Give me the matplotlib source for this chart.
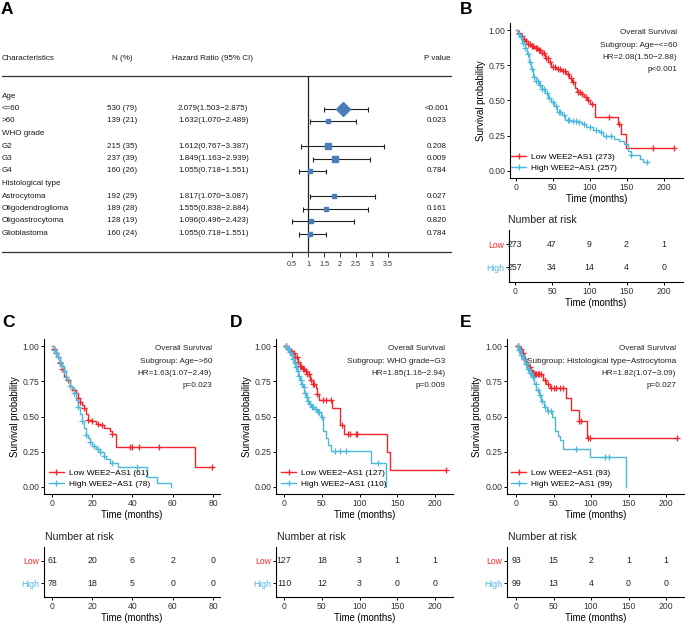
import numpy as np
import matplotlib
matplotlib.use("Agg")
import matplotlib.pyplot as plt
from matplotlib.lines import Line2D

plt.rcParams["font.family"] = ["Liberation Sans", "DejaVu Sans"]

W, H = 685, 624
RED = "#F2262B"
BLUE = "#4BB8DC"
MARK = "#4A7EBB"

# ---- panel A: forest plot data ----
rows = ["Age", "<=60", ">60", "WHO grade", "G2", "G3", "G4", "Histological type",
        "Astrocytoma", "Oligodendroglioma", "Oligoastrocytoma", "Glioblastoma"]
n_pct = ["", "530 (79)", "139 (21)", "", "215 (35)", "237 (39)", "160 (26)", "",
         "192 (29)", "189 (28)", "128 (19)", "160 (24)"]
hr = [np.nan, 2.079, 1.632, np.nan, 1.612, 1.849, 1.055, np.nan, 1.817, 1.555, 1.096, 1.055]
hr_lo = [np.nan, 1.503, 1.070, np.nan, 0.767, 1.163, 0.718, np.nan, 1.070, 0.838, 0.496, 0.718]
hr_hi = [np.nan, 2.875, 2.489, np.nan, 3.387, 2.939, 1.551, np.nan, 3.087, 2.884, 2.423, 1.551]
pvals = ["", "<0.001", "0.023", "", "0.208", "0.009", "0.784", "", "0.027", "0.161", "0.820", "0.784"]
forest_ticks = [0.5, 1, 1.5, 2, 2.5, 3, 3.5]
box_ms = [0, 7.5, 2.2, 0, 3.8, 4.2, 3.3, 0, 3.3, 3.3, 2.2, 3.3]

# ---- panel B: Age <=60 ----
b_low_t = [0, 3, 6, 9, 12, 16, 20, 25, 30, 35, 40, 44, 48, 55, 62, 68, 72, 76, 80, 83, 88, 92, 96, 100, 107, 138, 142, 149]
b_low_s = [1.0, 0.98, 0.96, 0.94, 0.92, 0.90, 0.885, 0.87, 0.855, 0.84, 0.80, 0.77, 0.735, 0.72, 0.71, 0.69,
           0.66, 0.63, 0.59, 0.56, 0.545, 0.525, 0.50, 0.475, 0.38, 0.33, 0.26, 0.163]
b_low_end = 214
b_low_cens = [5, 8, 11, 14, 17, 19, 22, 24, 27, 29, 31, 33, 36, 38, 41, 43, 46, 50, 53, 57, 60, 64, 67, 70,
              75, 78, 84, 87, 90, 95, 98, 103, 126, 140, 185, 214]
b_high_t = [0, 3, 6, 9, 12, 15, 18, 21, 24, 27, 31, 35, 40, 44, 48, 52, 56, 62, 67, 75, 85, 90, 95, 104, 112,
            118, 132, 140, 146, 152, 156, 168, 172]
b_high_s = [1.0, 0.97, 0.95, 0.91, 0.87, 0.83, 0.77, 0.72, 0.67, 0.64, 0.61, 0.58, 0.55, 0.52, 0.49, 0.46, 0.42,
            0.40, 0.36, 0.355, 0.35, 0.33, 0.31, 0.29, 0.275, 0.25, 0.23, 0.21, 0.19, 0.14, 0.11, 0.085, 0.066]
b_high_end = 177
b_high_cens = [4, 7, 10, 13, 16, 19, 22, 25, 28, 30, 33, 36, 38, 42, 45, 50, 54, 58, 60, 65, 70, 72, 78, 82,
               86, 92, 100, 108, 115, 122, 128, 156, 177]
b_risk_low = [273, 47, 9, 2, 1]
b_risk_high = [257, 34, 14, 4, 0]

# ---- panel C: Age >60 ----
c_low_t = [0, 1, 2, 3, 4, 5, 6, 7, 9, 10, 12, 13, 14, 15, 16, 17, 18, 20, 22, 24, 26, 29, 30, 32, 71]
c_low_s = [1.0, 0.98, 0.95, 0.92, 0.88, 0.84, 0.79, 0.76, 0.72, 0.69, 0.665, 0.63, 0.60, 0.58, 0.56, 0.52,
           0.475, 0.465, 0.45, 0.44, 0.42, 0.40, 0.375, 0.286, 0.144]
c_low_end = 79.5
c_low_cens = [1, 2, 4, 5, 8, 11, 13, 14, 16, 18, 20, 23, 25, 30, 39, 40, 43, 53, 79.5]
c_high_t = [0, 1, 2, 3, 4, 5, 6, 7, 8, 9, 10, 11, 12, 13, 14, 15, 16, 17, 18, 19, 20, 22, 24, 26, 27, 29,
            33, 47, 52, 59]
c_high_s = [1.0, 0.97, 0.95, 0.92, 0.89, 0.86, 0.82, 0.78, 0.75, 0.72, 0.70, 0.67, 0.62, 0.57, 0.52, 0.47,
            0.42, 0.37, 0.35, 0.32, 0.29, 0.27, 0.25, 0.22, 0.20, 0.17, 0.14, 0.07, 0.03, 0.0]
c_high_end = 59
c_high_cens = [1, 2, 3, 4, 5, 6, 7, 9, 11, 13, 15, 17, 19, 21, 23, 24, 26, 30, 42]
c_risk_low = [61, 20, 6, 2, 0]
c_risk_high = [78, 18, 5, 0, 0]

# ---- panel D: WHO grade G3 ----
d_low_t = [0, 4, 8, 11, 15, 18, 21, 24, 28, 31, 35, 38, 42, 44, 46, 64, 74, 79, 136, 141]
d_low_s = [1.0, 0.98, 0.965, 0.95, 0.92, 0.89, 0.86, 0.84, 0.82, 0.80, 0.76, 0.73, 0.70, 0.66, 0.615,
           0.56, 0.44, 0.375, 0.25, 0.12]
d_low_end = 214
d_low_cens = [2, 3, 5, 7, 9, 11, 13, 15, 17, 19, 21, 23, 25, 27, 29, 31, 33, 36, 38, 40, 44, 52, 56, 62,
              77, 85, 88, 95, 97, 214]
d_high_t = [0, 4, 7, 9, 11, 13, 15, 17, 19, 21, 23, 25, 27, 29, 31, 33, 36, 40, 44, 49, 52, 55, 58, 62, 115, 135]
d_high_s = [1.0, 0.98, 0.96, 0.94, 0.91, 0.88, 0.85, 0.82, 0.79, 0.76, 0.73, 0.71, 0.67, 0.64, 0.61, 0.59,
            0.57, 0.55, 0.53, 0.50, 0.40, 0.35, 0.30, 0.255, 0.17, 0.0]
d_high_end = 135
d_high_cens = [3, 5, 6, 8, 10, 12, 14, 16, 18, 20, 22, 24, 26, 28, 30, 32, 34, 37, 39, 42, 45, 47, 50,
               68, 74, 82, 124]
d_risk_low = [127, 18, 3, 1, 1]
d_risk_high = [110, 12, 3, 0, 0]

# ---- panel E: Histological type Astrocytoma ----
e_low_t = [0, 4, 7, 10, 13, 16, 19, 21, 36, 40, 45, 67, 73, 84, 95]
e_low_s = [1.0, 0.98, 0.95, 0.91, 0.87, 0.85, 0.83, 0.80, 0.76, 0.73, 0.70, 0.63, 0.545, 0.47, 0.35]
e_low_end = 214
e_low_cens = [2, 3, 5, 6, 8, 9, 11, 12, 14, 15, 17, 18, 20, 22, 23, 24, 25, 26, 27, 29, 31, 33, 38, 42,
              47, 50, 53, 58, 62, 84, 86, 96, 98, 214]
e_high_t = [0, 3, 6, 9, 12, 15, 18, 21, 24, 27, 30, 33, 37, 41, 48, 52, 56, 59, 63, 99, 147]
e_high_s = [1.0, 0.97, 0.94, 0.91, 0.87, 0.84, 0.81, 0.78, 0.73, 0.69, 0.65, 0.61, 0.57, 0.54, 0.50,
            0.40, 0.36, 0.33, 0.27, 0.21, 0.0]
e_high_end = 147
e_high_cens = [2, 4, 5, 7, 8, 10, 11, 13, 14, 16, 17, 19, 20, 22, 23, 26, 29, 32, 35, 38, 43, 46, 80, 118, 124]
e_risk_low = [93, 15, 2, 1, 1]
e_risk_high = [99, 13, 4, 0, 0]


def box(l, t, r, b):
    return [l / W, 1 - b / H, (r - l) / W, (b - t) / H]


def ftext(x, y, s, **kw):
    fig.text(x / W, 1 - y / H, s, **kw)


def step_at(t, s, x):
    idx = np.searchsorted(t, x, side="right") - 1
    return np.asarray(s)[idx]


def style_axis(ax, xlim, xticks):
    ax.set_xlim(xlim)
    ax.set_xticks(xticks)
    for sp in ["top", "right"]:
        ax.spines[sp].set_visible(False)
    for sp in ["left", "bottom"]:
        ax.spines[sp].set_linewidth(0.8)
    ax.tick_params(length=2.2, width=0.7, pad=1.2, labelsize=6.2, labelcolor="#333333")
    ax.set_xlabel("Time (months)", fontsize=6.9, labelpad=1.5)


def km_panel(main_px, risk_px, xlim, xticks, low, high, notes, note_x, leg_xy, n_low, n_high, nar_xy):
    ax = fig.add_axes(box(*main_px))
    for (t, s, end, cens), col in [(low, RED), (high, BLUE)]:
        ax.step(list(t) + [end], list(s) + [s[-1]], where="post", color=col, lw=1.0)
        ax.plot(cens, step_at(t, s, cens), ls="none", marker="+", ms=5, mew=0.9, color=col)
    style_axis(ax, xlim, xticks)
    ax.set_ylim(-0.05, 1.05)
    ax.set_yticks([0, 0.25, 0.5, 0.75, 1.0])
    ax.set_yticklabels(["0.00", "0.25", "0.50", "0.75", "1.00"])
    ax.set_ylabel("Survival probability", fontsize=6.9, labelpad=2)
    handles = [Line2D([], [], color=RED, lw=1.0, marker="+", ms=5, mew=0.9),
               Line2D([], [], color=BLUE, lw=1.0, marker="+", ms=5, mew=0.9)]
    labels = ["Low WEE2\u2212AS1 (%d)" % n_low[0], "High WEE2\u2212AS1 (%d)" % n_high[0]]
    ax.legend(handles, labels, loc="upper left", bbox_to_anchor=(leg_xy[0] / W, 1 - leg_xy[1] / H),
              bbox_transform=fig.transFigure, frameon=False, fontsize=6.0, handlelength=1.8,
              handletextpad=0.6, labelspacing=0.35, borderpad=0, borderaxespad=0)
    top = main_px[1]
    for i, line in enumerate(notes):
        ftext(note_x, top + 10 + 12.2 * i, line, fontsize=5.9, ha="right", va="center", color="#222222")

    ftext(nar_xy[0], nar_xy[1], "Number at risk", fontsize=7.6, ha="left", va="center", color="#222222")
    rk = fig.add_axes(box(*risk_px))
    for x, a, b in zip(xticks, n_low, n_high):
        rk.text(x, 1, str(a), ha="center", va="center", fontsize=6.3, color="#222222")
        rk.text(x, 0, str(b), ha="center", va="center", fontsize=6.3, color="#222222")
    style_axis(rk, xlim, xticks)
    rk.set_ylim(-0.62, 1.6)
    rk.set_yticks([1, 0])
    rk.set_yticklabels(["Low", "High"])
    for lab, col in zip(rk.get_yticklabels(), [RED, BLUE]):
        lab.set_color(col)
    return ax


fig = plt.figure(figsize=(W / 100, H / 100), dpi=100)

# ---- panel A ----
tab = fig.add_axes(box(0, 40, 460, 280))
tab.set_xlim(0, 460)
tab.set_ylim(280, 40)
tab.axis("off")
row_y = [96 + 12.5 * i for i in range(len(rows))]
hdr_kw = dict(fontsize=5.8, va="center", color="#1a1a1a")
tab.text(2, 58, "Characteristics", ha="left", **hdr_kw)
tab.text(112, 58, "N (%)", ha="left", **hdr_kw)
tab.text(172, 58, "Hazard Ratio (95% CI)", ha="left", **hdr_kw)
tab.text(451, 58, "P value", ha="right", **hdr_kw)
tab.plot([2, 451], [76, 76], color="#333333", lw=0.9)
tab.plot([2, 451], [252, 252], color="#333333", lw=0.9)
for y, name, n, h, lo, hi, p in zip(row_y, rows, n_pct, hr, hr_lo, hr_hi, pvals):
    tab.text(2, y, name, ha="left", **hdr_kw)
    if n:
        tab.text(107, y, n, ha="left", **hdr_kw)
        tab.text(178, y, "%.3f(%.3f\u2212%.3f)" % (h, lo, hi), ha="left", **hdr_kw)
        tab.text(437, y, p, ha="center", **hdr_kw)

fa = fig.add_axes(box(276, 76, 404, 252))
fa.set_xlim(1 - 32 / 32, 1 + 96 / 32)
fa.set_ylim(252, 76)
fa.patch.set_alpha(0)
for sp in ["top", "right", "left", "bottom"]:
    fa.spines[sp].set_visible(False)
fa.set_yticks([])
fa.axvline(1, color="#222222", lw=0.9)
for y, h, lo, hi, ms in zip(row_y, hr, hr_lo, hr_hi, box_ms):
    if np.isnan(h):
        continue
    fa.errorbar(h, y, xerr=[[h - lo], [hi - h]], fmt="none", ecolor="#222222", elinewidth=0.8,
                capsize=1.8, capthick=0.8)
    fa.plot(h, y, marker="D" if ms > 6 else "s", ms=ms, color=MARK, mec=MARK, ls="none")
fa.set_xticks(forest_ticks)
fa.set_xticklabels([("%g" % v) for v in forest_ticks])
fa.tick_params(axis="x", length=3.6, width=0.7, pad=3, labelsize=5.2, labelcolor="#333333", color="#333333")

# ---- KM panels ----
km_panel((510, 23, 683, 178), (509, 230, 683, 282), (-7.7, 225.8), [0, 50, 100, 150, 200],
         (b_low_t, b_low_s, b_low_end, b_low_cens), (b_high_t, b_high_s, b_high_end, b_high_cens),
         ["Overall Survival", "Subgroup: Age\u2212<=60", "HR=2.08(1.50\u22122.88)", "p<0.001"], 677,
         (511, 153), b_risk_low, b_risk_high, (508, 220))
km_panel((44, 339, 220, 494), (44, 547, 220, 597), (-3.98, 83.5), [0, 20, 40, 60, 80],
         (c_low_t, c_low_s, c_low_end, c_low_cens), (c_high_t, c_high_s, c_high_end, c_high_cens),
         ["Overall Survival", "Subgroup: Age\u2212>60", "HR=1.63(1.07\u22122.49)", "p=0.023"], 212,
         (49, 469), c_risk_low, c_risk_high, (45, 537))
km_panel((276, 339, 453, 494), (276, 547, 453, 597), (-10.6, 223.8), [0, 50, 100, 150, 200],
         (d_low_t, d_low_s, d_low_end, d_low_cens), (d_high_t, d_high_s, d_high_end, d_high_cens),
         ["Overall Survival", "Subgroup: WHO grade\u2212G3", "HR=1.85(1.16\u22122.94)", "p=0.009"], 445,
         (281, 469), d_risk_low, d_risk_high, (277, 537))
km_panel((507, 339, 684, 494), (507, 547, 684, 597), (-12, 224), [0, 50, 100, 150, 200],
         (e_low_t, e_low_s, e_low_end, e_low_cens), (e_high_t, e_high_s, e_high_end, e_high_cens),
         ["Overall Survival", "Subgroup: Histological type\u2212Astrocytoma", "HR=1.82(1.07\u22123.09)", "p=0.027"],
         676, (511, 469), e_risk_low, e_risk_high, (508, 537))

for letter, x, y in [("A", 1, 2), ("B", 460, 2), ("C", 2, 315), ("D", 230, 315), ("E", 460, 315)]:
    ftext(x, y, letter, fontsize=12.5, fontweight="bold", ha="left", va="top")

fig.savefig("out.png", dpi=100)
